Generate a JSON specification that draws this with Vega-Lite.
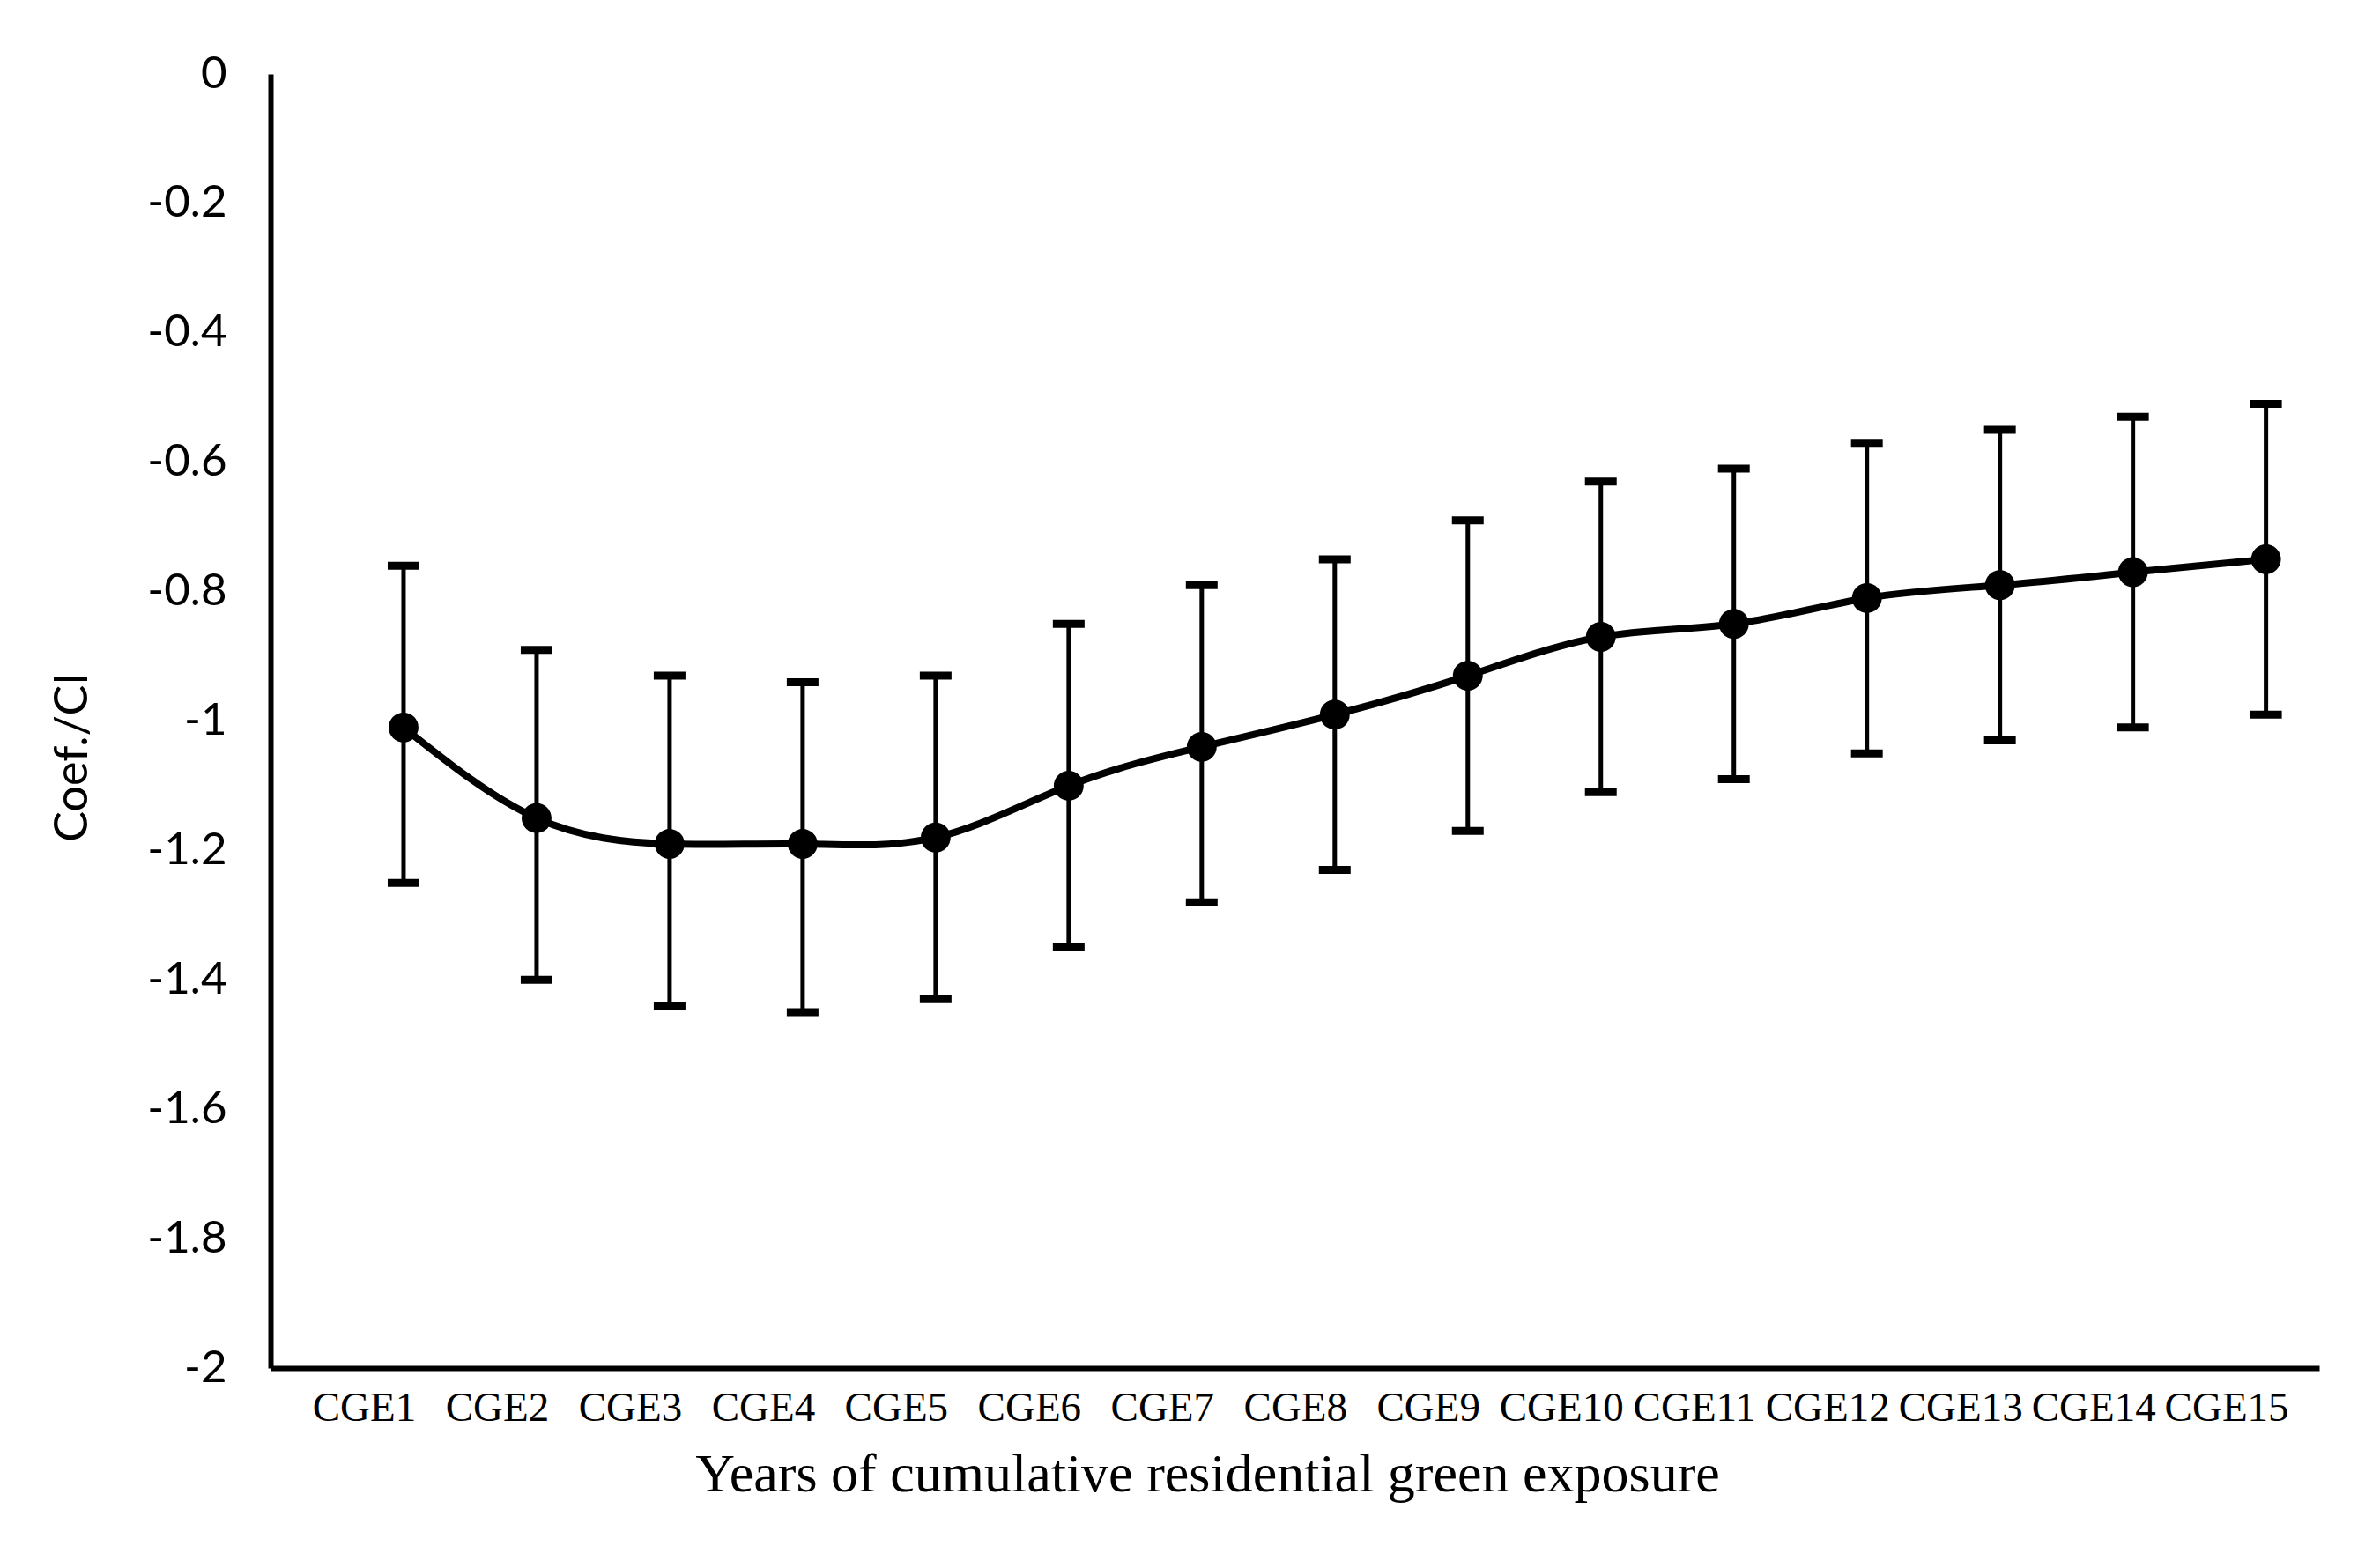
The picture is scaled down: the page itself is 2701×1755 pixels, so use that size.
{
  "$schema": "https://vega.github.io/schema/vega-lite/v6.json",
  "autosize": "none",
  "width": 2325,
  "height": 1469,
  "padding": {"left": 307, "top": 84, "right": 69, "bottom": 202},
  "background": "white",
  "config": {"view": {"stroke": null}},
  "data": {
    "values": [
      {"x": 1, "label": "CGE1", "coef": -1.01, "lo": -1.25, "hi": -0.76},
      {"x": 2, "label": "CGE2", "coef": -1.15, "lo": -1.40, "hi": -0.89},
      {"x": 3, "label": "CGE3", "coef": -1.19, "lo": -1.44, "hi": -0.93},
      {"x": 4, "label": "CGE4", "coef": -1.19, "lo": -1.45, "hi": -0.94},
      {"x": 5, "label": "CGE5", "coef": -1.18, "lo": -1.43, "hi": -0.93},
      {"x": 6, "label": "CGE6", "coef": -1.10, "lo": -1.35, "hi": -0.85},
      {"x": 7, "label": "CGE7", "coef": -1.04, "lo": -1.28, "hi": -0.79},
      {"x": 8, "label": "CGE8", "coef": -0.99, "lo": -1.23, "hi": -0.75},
      {"x": 9, "label": "CGE9", "coef": -0.93, "lo": -1.17, "hi": -0.69},
      {"x": 10, "label": "CGE10", "coef": -0.87, "lo": -1.11, "hi": -0.63},
      {"x": 11, "label": "CGE11", "coef": -0.85, "lo": -1.09, "hi": -0.61},
      {"x": 12, "label": "CGE12", "coef": -0.81, "lo": -1.05, "hi": -0.57},
      {"x": 13, "label": "CGE13", "coef": -0.79, "lo": -1.03, "hi": -0.55},
      {"x": 14, "label": "CGE14", "coef": -0.77, "lo": -1.01, "hi": -0.53},
      {"x": 15, "label": "CGE15", "coef": -0.75, "lo": -0.99, "hi": -0.51}
    ]
  },
  "encoding": {
    "x": {
      "field": "x",
      "type": "quantitative",
      "scale": {"domain": [0, 15.4], "nice": false, "zero": false},
      "axis": {
        "values": [1, 2, 3, 4, 5, 6, 7, 8, 9, 10, 11, 12, 13, 14, 15],
        "labelExpr": "'CGE' + datum.value",
        "grid": false,
        "ticks": false,
        "domainColor": "black",
        "domainWidth": 6,
        "labelFont": "Liberation Serif",
        "labelFontSize": 47,
        "labelColor": "black",
        "labelPadding": 22,
        "labelOffset": -45,
        "labelOverlap": false,
        "labelFlush": false,
        "title": "Years of cumulative residential green exposure",
        "titleFont": "Liberation Serif",
        "titleFontSize": 62,
        "titleFontWeight": "normal",
        "titleColor": "black",
        "titleX": 1063,
        "titleAlign": "center",
        "titlePadding": 22
      }
    }
  },
  "layer": [
    {
      "mark": {"type": "rule", "color": "black", "strokeWidth": 5},
      "encoding": {
        "y": {
          "field": "lo",
          "type": "quantitative",
          "scale": {"domain": [-2, 0], "nice": false, "zero": false},
          "axis": {
            "values": [0, -0.2, -0.4, -0.6, -0.8, -1, -1.2, -1.4, -1.6, -1.8, -2],
            "labelExpr": "'' + datum.value",
            "grid": false,
            "ticks": false,
            "domainColor": "black",
            "domainWidth": 6,
            "labelFont": "Lato",
            "labelFontSize": 51,
            "labelColor": "black",
            "labelPadding": 50,
            "labelFlush": false,
            "labelOverlap": false,
            "title": "Coef./CI",
            "titleFont": "Lato",
            "titleFontSize": 52,
            "titleFontWeight": "normal",
            "titleColor": "black",
            "titleAngle": 270,
            "titleX": -225,
            "titleY": 775,
            "titleAlign": "center",
            "titleBaseline": "middle"
          }
        },
        "y2": {"field": "hi"}
      }
    },
    {
      "mark": {"type": "tick", "orient": "horizontal", "color": "black", "size": 36, "thickness": 9, "opacity": 1},
      "encoding": {"y": {"field": "lo", "type": "quantitative"}}
    },
    {
      "mark": {"type": "tick", "orient": "horizontal", "color": "black", "size": 36, "thickness": 9, "opacity": 1},
      "encoding": {"y": {"field": "hi", "type": "quantitative"}}
    },
    {
      "mark": {"type": "line", "color": "black", "strokeWidth": 8, "interpolate": "natural"},
      "encoding": {"y": {"field": "coef", "type": "quantitative"}}
    },
    {
      "mark": {"type": "point", "filled": true, "color": "black", "size": 1150, "opacity": 1},
      "encoding": {"y": {"field": "coef", "type": "quantitative"}}
    }
  ]
}
